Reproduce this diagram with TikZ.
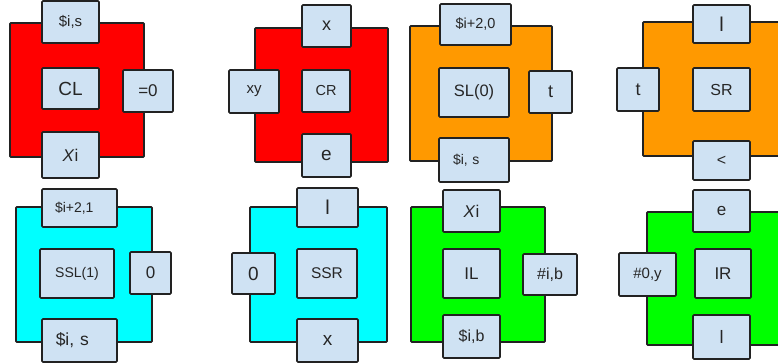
\documentclass[tikz,border=0pt]{standalone}
\usepackage{fontspec}
\setmainfont{Liberation Sans}
\definecolor{boxblue}{HTML}{CFE2F3}
\definecolor{tred}{HTML}{FF0000}
\definecolor{torange}{HTML}{FF9900}
\definecolor{tcyan}{HTML}{00FFFF}
\definecolor{tgreen}{HTML}{00FF00}
\definecolor{edge}{HTML}{222222}
\tikzset{
  bigbox/.style={draw=edge, line width=1.6pt, inner sep=0pt, rounded corners=0.8pt},
  bx/.style={draw=edge, fill=boxblue, line width=1.6pt, inner sep=0pt, rounded corners=1pt, text=black!85},
}
\newcommand{\fs}[1]{\fontsize{#1}{#1}\selectfont}
\begin{document}
\begin{tikzpicture}[x=1pt,y=-1pt]
\useasboundingbox (0,0) rectangle (778,362);
\clip (0,0) rectangle (778,362);
% Tile 1: CL
\node[bigbox, fill=tred, minimum width=134pt, minimum height=134pt] (t1) at (77,90) {};
\node[bx, minimum width=57pt, minimum height=42pt, font=\fs{15}] (t1a) at (70.5,22) {\$i,s};
\node[bx, minimum width=57pt, minimum height=41pt, font=\fs{19}] (t1b) at (70.5,88.5) {CL};
\node[bx, minimum width=50pt, minimum height=42pt, font=\fs{17}] (t1c) at (148,91) {=0};
\node[bx, minimum width=57pt, minimum height=46pt, font=\fs{17}] (t1d) at (70.5,155) {\textit{X}i};
% Tile 2: CR
\node[bigbox, fill=tred, minimum width=133pt, minimum height=134pt] (t2) at (321.5,95) {};
\node[bx, minimum width=49pt, minimum height=42pt, font=\fs{18}] (t2a) at (326.5,26) {x};
\node[bx, minimum width=50pt, minimum height=43pt, font=\fs{15}] (t2b) at (254,91.5) {xy};
\node[bx, minimum width=48pt, minimum height=42pt, font=\fs{14.5}] (t2c) at (326,91) {CR};
\node[bx, minimum width=49pt, minimum height=43pt, font=\fs{19}] (t2d) at (326.5,155.5) {e};
% Tile 3: SL(0)
\node[bigbox, fill=torange, minimum width=142pt, minimum height=135pt] (t3) at (481,93.5) {};
\node[bx, minimum width=71pt, minimum height=41pt, font=\fs{14.5}] (t3a) at (475.5,24.5) {\$i+2,0};
\node[bx, minimum width=70pt, minimum height=49pt, font=\fs{16.5}] (t3b) at (474,92.5) {SL(0)};
\node[bx, minimum width=43pt, minimum height=42pt, font=\fs{18}] (t3c) at (550.5,92) {t};
\node[bx, minimum width=70pt, minimum height=44pt, font=\fs{14}, text width=42pt, align=left] (t3d) at (474,160) {\$i, s};
% Tile 4: SR
\node[bigbox, fill=torange, minimum width=160pt, minimum height=134pt] (t4) at (723,89) {};
\node[bx, minimum width=57pt, minimum height=38pt, font=\fs{20}] (t4a) at (721.5,24) {l};
\node[bx, minimum width=42pt, minimum height=43pt, font=\fs{18}] (t4b) at (638,89.5) {t};
\node[bx, minimum width=57pt, minimum height=43pt, font=\fs{16}] (t4c) at (721.5,89.5) {SR};
\node[bx, minimum width=57pt, minimum height=39pt, font=\fs{16}] (t4d) at (721.5,160.5) {<};
% Tile 5: SSL(1)
\node[bigbox, fill=tcyan, minimum width=136pt, minimum height=135pt] (t5) at (84,274.5) {};
\node[bx, minimum width=75pt, minimum height=38pt, font=\fs{14}, text width=49pt, align=left] (t5a) at (79.5,208) {\$i+2,1};
\node[bx, minimum width=74pt, minimum height=49pt, font=\fs{14}] (t5b) at (77,273.5) {SSL(1)};
\node[bx, minimum width=41pt, minimum height=42pt, font=\fs{17}] (t5c) at (150.5,273) {0};
\node[bx, minimum width=75pt, minimum height=43pt, font=\fs{17.5}, text width=47.5pt, align=left] (t5d) at (79.5,340.5) {\$i, s};
% Tile 6: SSR
\node[bigbox, fill=tcyan, minimum width=137pt, minimum height=135pt] (t6) at (318.5,274.5) {};
\node[bx, minimum width=61pt, minimum height=39pt, font=\fs{20}] (t6a) at (327.5,207.5) {l};
\node[bx, minimum width=43pt, minimum height=41pt, font=\fs{19}] (t6b) at (253.5,273.5) {0};
\node[bx, minimum width=60pt, minimum height=49pt, font=\fs{15.5}] (t6c) at (327,273.5) {SSR};
\node[bx, minimum width=61pt, minimum height=43pt, font=\fs{19}] (t6d) at (327.5,340.5) {x};
% Tile 7: IL
\node[bigbox, fill=tgreen, minimum width=134pt, minimum height=135pt] (t7) at (478,274.5) {};
\node[bx, minimum width=57pt, minimum height=42pt, font=\fs{17}] (t7a) at (471.5,211) {\textit{X}i};
\node[bx, minimum width=57pt, minimum height=49pt, font=\fs{17}] (t7b) at (471.5,273.5) {IL};
\node[bx, minimum width=54pt, minimum height=41pt, font=\fs{16}] (t7c) at (550,274.5) {\#i,b};
\node[bx, minimum width=57pt, minimum height=43pt, font=\fs{16}] (t7d) at (471.5,336.5) {\$i,b};
% Tile 8: IR
\node[bigbox, fill=tgreen, minimum width=160pt, minimum height=133pt] (t8) at (727,278.5) {};
\node[bx, minimum width=57pt, minimum height=42pt, font=\fs{17}] (t8a) at (721.5,211) {e};
\node[bx, minimum width=57pt, minimum height=43pt, font=\fs{15}] (t8b) at (647.5,274.5) {\#0,y};
\node[bx, minimum width=56pt, minimum height=49pt, font=\fs{17}] (t8c) at (723,273.5) {IR};
\node[bx, minimum width=57pt, minimum height=44pt, font=\fs{18}] (t8d) at (721.5,337) {l};
\end{tikzpicture}
\end{document}
